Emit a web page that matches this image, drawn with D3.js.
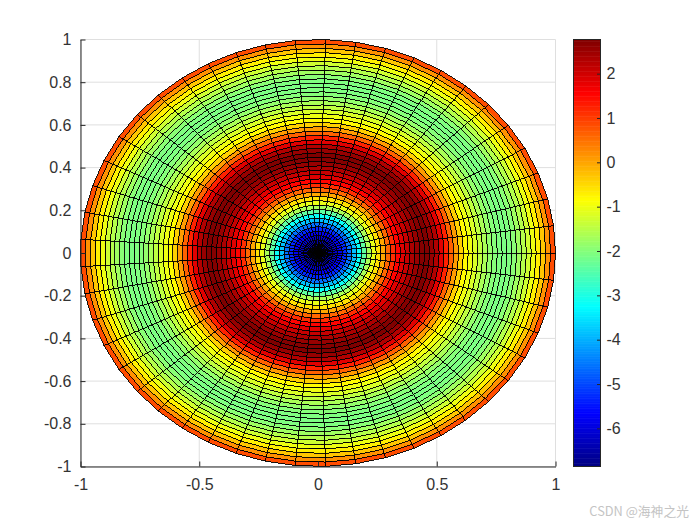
<!DOCTYPE html>
<html>
<head>
<meta charset="utf-8">
<script src="https://cdnjs.cloudflare.com/ajax/libs/d3/7.8.5/d3.min.js"></script>
<style>
  html, body { margin: 0; padding: 0; background: #fff; }
  svg { display: block; }
  text { font-family: "Liberation Sans", Arial, sans-serif; }
  .axis text { font-size: 16px; fill: #333; }
  .axis path, .axis line { stroke: #262626; stroke-width: 1; }
</style>
</head>
<body>
<svg id="chart"></svg>
<script>
var svgWidth = 700;
var svgHeight = 525;

// value of each ring, centre to rim
var ringValues = [
  -6.86, -6.7, -6.45, -6.15, -5.8, -5.3, -4.6, -3.85, -3.15, -2.35,
  -1.65, -1.05, -0.55, 0, 0.6, 1.15, 1.55, 1.85, 2.1, 2.35,
  2.55, 2.72, 2.77, 2.55, 2.3, 1.85, 1.25, 0.65, 0.1, -0.4,
  -0.8, -1.0, -1.2, -1.45, -1.65, -1.85, -1.98, -2.05, -2.08, -2.05,
  -1.95, -1.75, -1.55, -1.3, -1.0, -0.7, -0.3, 0.2, 0.85
];
var sectorCount = 49;

var xTicks = [-1, -0.5, 0, 0.5, 1];
var xTickLabels = ["-1", "-0.5", "0", "0.5", "1"];
var yTicks = [-1, -0.8, -0.6, -0.4, -0.2, 0, 0.2, 0.4, 0.6, 0.8, 1];
var yTickLabels = ["-1", "-0.8", "-0.6", "-0.4", "-0.2", "0", "0.2", "0.4", "0.6", "0.8", "1"];
var barTicks = [-6, -5, -4, -3, -2, -1, 0, 1, 2];
var barTickLabels = ["-6", "-5", "-4", "-3", "-2", "-1", "0", "1", "2"];

var colorLimits = [-6.86, 2.77];
var jetStops = [0, 0.125, 0.375, 0.625, 0.875, 1];
var jetColors = ["#000080", "#0000ff", "#00ffff", "#ffff00", "#ff0000", "#800000"];

var svg = d3.select("#chart")
  .attr("width", svgWidth)
  .attr("height", svgHeight);

var x = d3.scaleLinear().domain([-1, 1]).range([80.5, 555.5]);
var y = d3.scaleLinear().domain([-1, 1]).range([466.5, 39.5]);
var radius = d3.scaleLinear().domain([0, ringValues.length]).range([0, 1]);
var angle = d3.scaleLinear().domain([0, sectorCount]).range([0, 2 * Math.PI]);

var norm = d3.scaleLinear().domain(colorLimits).range([0, 1]);
var jet = d3.scaleLinear().domain(jetStops).range(jetColors).interpolate(d3.interpolateRgb);

// grid lines
var grid = svg.append("g").attr("stroke", "#dfdfdf").attr("stroke-width", 1);
grid.selectAll(".gx").data(xTicks).enter().append("line")
  .attr("x1", d => x(d)).attr("x2", d => x(d))
  .attr("y1", y(-1)).attr("y2", y(1));
grid.selectAll(".gy").data(yTicks).enter().append("line")
  .attr("x1", x(-1)).attr("x2", x(1))
  .attr("y1", d => y(d)).attr("y2", d => y(d));

// one cell per ring and sector
var cells = [];
ringValues.forEach(function(value, i) {
  d3.range(sectorCount).forEach(function(j) {
    cells.push({ ring: i, sector: j, value: value });
  });
});

function corner(ring, sector) {
  var r = radius(ring);
  var a = angle(sector);
  return x(r * Math.cos(a)) + "," + y(r * Math.sin(a));
}

svg.append("g")
  .attr("stroke", "#000")
  .attr("stroke-width", 0.9)
  .attr("shape-rendering", "crispEdges")
  .selectAll("polygon")
  .data(cells)
  .enter()
  .append("polygon")
  .attr("points", d => [
    corner(d.ring, d.sector),
    corner(d.ring + 1, d.sector),
    corner(d.ring + 1, d.sector + 1),
    corner(d.ring, d.sector + 1)
  ].join(" "))
  .attr("fill", d => jet(norm(d.value)));

// axes
var xAxis = d3.axisBottom(x)
  .tickValues(xTicks)
  .tickFormat((d, i) => xTickLabels[i])
  .tickSizeInner(-5)
  .tickSizeOuter(0)
  .tickPadding(12);
svg.append("g").attr("class", "axis")
  .attr("transform", `translate(0, ${y(-1)})`)
  .call(xAxis);

var yAxis = d3.axisLeft(y)
  .tickValues(yTicks)
  .tickFormat((d, i) => yTickLabels[i])
  .tickSizeInner(-5)
  .tickSizeOuter(0)
  .tickPadding(9);
svg.append("g").attr("class", "axis")
  .attr("transform", `translate(${x(-1)}, 0)`)
  .call(yAxis);

// colorbar
var barLeft = 573.5;
var barRight = 600.5;
var barY = d3.scaleLinear().domain(colorLimits).range([466.5, 39.5]);
var barSteps = d3.range(256);
var barStep = d3.scaleLinear().domain([0, 256]).range(colorLimits);

svg.append("g").selectAll("rect")
  .data(barSteps)
  .enter()
  .append("rect")
  .attr("x", barLeft)
  .attr("width", barRight - barLeft)
  .attr("y", d => barY(barStep(d + 1)))
  .attr("height", d => barY(barStep(d)) - barY(barStep(d + 1)) + 0.5)
  .attr("fill", d => jet((d + 0.5) / 256));

svg.append("rect")
  .attr("x", barLeft)
  .attr("y", barY(colorLimits[1]))
  .attr("width", barRight - barLeft)
  .attr("height", barY(colorLimits[0]) - barY(colorLimits[1]))
  .attr("fill", "none")
  .attr("stroke", "#262626");

var barAxis = d3.axisRight(barY)
  .tickValues(barTicks)
  .tickFormat((d, i) => barTickLabels[i])
  .tickSizeInner(-3.5)
  .tickSizeOuter(0)
  .tickPadding(6);
var barAxisGroup = svg.append("g").attr("class", "axis")
  .attr("transform", `translate(${barRight}, 0)`)
  .call(barAxis);
barAxisGroup.select(".domain").remove();

// watermark
svg.append("text")
  .attr("x", 689)
  .attr("y", 516)
  .attr("text-anchor", "end")
  .attr("fill", "#c4c4c4")
  .style("font-family", '"Noto Sans CJK SC", "Liberation Sans", sans-serif')
  .style("font-size", "12.8px")
  .text("CSDN @海神之光");
</script>
</body>
</html>
